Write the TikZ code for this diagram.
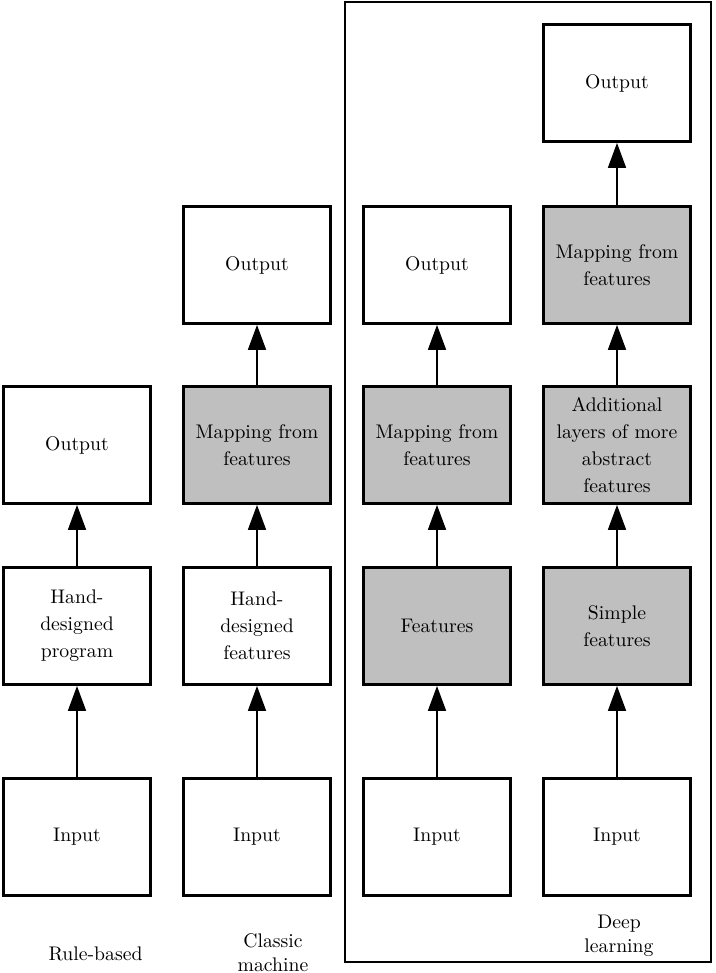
\documentclass[tikz,border=0pt]{standalone}
\usetikzlibrary{arrows.meta}
\begin{document}
\begin{tikzpicture}[x=0.5076pt,y=-0.5076pt,
  blk/.style={draw=black, line width=1.4pt, fill=white, minimum width=74.6pt, minimum height=59.4pt, inner sep=0pt, align=center, font=\fontsize{10}{13.7}\selectfont},
  gblk/.style={blk, fill=gray!50},
  arr/.style={line width=1pt, -{Triangle[length=12.7pt,width=9.1pt]}},
  lbl/.style={align=center, inner sep=0pt, anchor=base, font=\fontsize{10}{11.7}\selectfont}]
\useasboundingbox (0,0) rectangle (715,973);
\draw[line width=1.4pt] (345,2) rectangle (711,962);
% column 1
\node[blk] (a1) at (77,837) {Input};
\node[blk] (a2) at (77,626) {Hand-\\designed\\program};
\node[blk] (a3) at (77,445) {Output};
% column 2
\node[blk] (b1) at (257,837) {Input};
\node[blk] (b2) at (257,626) {Hand-\\designed\\features};
\node[gblk] (b3) at (257,445) {Mapping from\\features};
\node[blk] (b4) at (257,265) {Output};
% column 3
\node[blk] (c1) at (437,837) {Input};
\node[gblk] (c2) at (437,626) {Features};
\node[gblk] (c3) at (437,445) {Mapping from\\features};
\node[blk] (c4) at (437,265) {Output};
% column 4
\node[blk] (d1) at (617,837) {Input};
\node[gblk] (d2) at (617,626) {Simple\\features};
\node[gblk] (d3) at (617,445) {Additional\\layers of more\\abstract\\features};
\node[gblk] (d4) at (617,265) {Mapping from\\features};
\node[blk] (d5) at (617,83) {Output};
% arrows
\draw[arr] (a1) -- (a2);
\draw[arr] (a2) -- (a3);
\draw[arr] (b1) -- (b2);
\draw[arr] (b2) -- (b3);
\draw[arr] (b3) -- (b4);
\draw[arr] (c1) -- (c2);
\draw[arr] (c2) -- (c3);
\draw[arr] (c3) -- (c4);
\draw[arr] (d1) -- (d2);
\draw[arr] (d2) -- (d3);
\draw[arr] (d3) -- (d4);
\draw[arr] (d4) -- (d5);
% labels
\node[lbl] (l1) at (95.5,960) {Rule-based};
\node[lbl] (l2) at (273,971) {Classic\\machine};
\node[lbl] (l3) at (619,952) {Deep\\learning};
\end{tikzpicture}
\end{document}
